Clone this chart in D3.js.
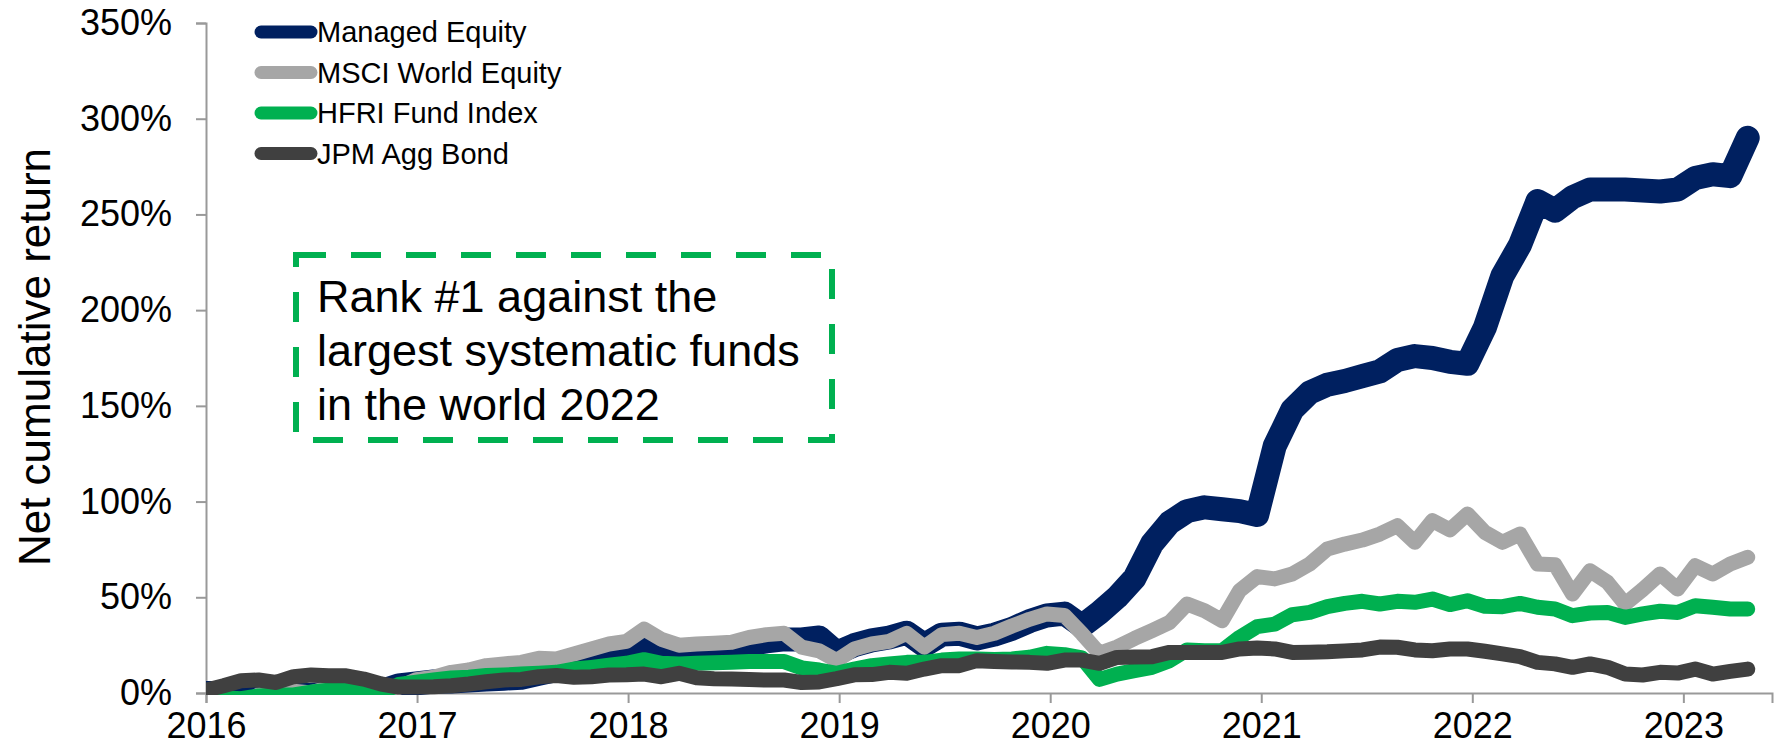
<!DOCTYPE html>
<html>
<head>
<meta charset="utf-8">
<script src="https://cdn.jsdelivr.net/npm/d3@7"></script>
<style>
    body { margin: 0; background: #fff; }
    text { font-family: "Liberation Sans", Arial, sans-serif; fill: #000; }
</style>
</head>
<body>
<div id="chart"></div>
<script>
// monthly net cumulative return (%), month-ends starting at 2016.0
let managed = [0, 0, -1, 0, 0, -1, -1, 0, 0, 0, 1, 4,
    5, 6, 6, 6.5, 7, 7.5, 8, 10, 12, 15, 18, 21,
    22, 27, 23, 21, 21.5, 22, 22.5, 25.5, 27, 28, 28, 29,
    21, 25, 27.5, 29, 31.5, 25, 30.5, 31, 28.5, 30.5, 33.5, 37.5,
    40.5, 41.5, 35, 42, 50, 60, 78, 89, 95, 97, 96, 95,
    93, 129, 148, 157, 161, 163, 165.5, 168, 174, 176, 175, 173,
    172, 191, 218, 234, 257, 252, 259, 263, 263, 263, 262.5, 262,
    263, 269, 271, 270, 290];
let msci = [-3, -6, -6.5, -1, 0.5, 1, 0, 3, 3, 2, -2, 3,
    7, 8.2, 10.8, 12, 14.3, 15.2, 16, 18.1, 17.8, 20.4, 23, 25.6,
    27, 33.4, 28, 25, 25.6, 26, 26.5, 29, 30.5, 31.2, 24, 22,
    17, 23, 25.6, 27, 31.2, 24, 30.5, 31.2, 29, 31.2, 35, 38.5,
    41.3, 40.5, 31, 20.7, 24, 28.5, 32.6, 36.9, 46.5, 43, 37.8, 53.5,
    60.8, 59.6, 62.2, 67.4, 75.2, 77.8, 79.9, 83, 87.4, 78.7, 90, 85.2,
    93.5, 83.9, 78.7, 83.1, 67.4, 67, 51.7, 63.9, 57.8, 46.5, 54, 62.2,
    54.3, 66.5, 62.2, 67.4, 70.9];
let hfri = [-1, -2.5, -3, -1.5, -1, -1, 0.5, 1.5, 1.5, 1.5, 0, 4.5,
    5.6, 6.8, 7.8, 8.2, 9.1, 9.4, 9.9, 10.3, 10.8, 12.5, 13.4, 14.5,
    15.5, 17.4, 15.5, 15.2, 15.5, 15.8, 16, 16.4, 16.5, 16.4, 13.1, 12,
    10.3, 12.5, 14.3, 15.2, 16, 16, 17.2, 17.8, 17.8, 17.5, 17.8, 18.7,
    20.7, 20, 18.3, 7.1, 9.9, 11.7, 13.4, 16.9, 22.5, 22.1, 22.1, 29.1,
    34.7, 36, 40.9, 42.1, 45.1, 46.8, 47.9, 46.5, 47.9, 47.4, 49.1, 46.2,
    48.2, 45.3, 45.1, 46.8, 44.8, 43.9, 40.4, 41.8, 42.1, 39.5, 41.3, 42.7,
    42.1, 45.6, 44.8, 43.9, 43.9];
let jpm = [1.5, 3.8, 6.4, 6.8, 5.5, 8.5, 9.4, 9, 9, 7.3, 4.7, 3.1,
    3.1, 3.3, 3.8, 4.7, 5.9, 6.8, 7.1, 8.5, 9.1, 8.2, 8.5, 9.4,
    9.5, 9.9, 8.5, 10.3, 8, 7.5, 7.3, 7, 6.8, 6.8, 5.5, 5.8,
    7.5, 9.5, 9.6, 10.8, 10.3, 12.5, 14.3, 14.3, 16.9, 16.5, 16.2, 16,
    15.5, 17.2, 17.2, 15.5, 18.6, 18.8, 19, 21.2, 21.2, 21.2, 21.2, 23,
    23.5, 23, 21.2, 21.3, 21.5, 22, 22.5, 24, 23.9, 22.5, 22.1, 23,
    23, 21.8, 20.4, 19, 16, 15.2, 13.4, 15.2, 13.4, 9.9, 9.4, 10.8,
    10.4, 12.5, 9.9, 11.3, 12.5];

let seriesNames = ["Managed Equity", "MSCI World Equity", "HFRI Fund Index", "JPM Agg Bond"];
let seriesColors = ["#002060", "#a6a6a6", "#00b050", "#404040"];
let seriesWidths = [24, 15, 15, 15];
let yearTicks = [2016, 2017, 2018, 2019, 2020, 2021, 2022, 2023];
let yTicks = [0, 50, 100, 150, 200, 250, 300, 350];
let noteLines = ["Rank #1 against the", "largest systematic funds", "in the world 2022"];

let startYear = 2016, lastPointYear = 2023.305;
let width = 1782, height = 755;

let svg = d3.select("#chart")
    .append("svg")
    .attr("width", width)
    .attr("height", height)

let x = d3.scaleLinear().domain([2016, 2023.42]).range([206, 1772]);
let y = d3.scaleLinear().domain([0, 350]).range([693, 23]);
// point index -> year on the date axis
let t = d3.scaleLinear().domain([0, managed.length - 1]).range([startYear, lastPointYear]);

// plot area clip (Excel cuts the lines at the 0% floor)
svg.append("clipPath")
    .attr("id", "plot-clip")
    .append("rect")
    .attr("x", x.range()[0])
    .attr("y", 0)
    .attr("width", x.range()[1] - x.range()[0])
    .attr("height", y(0) + 2)

// axes
let yAxis = svg.append("g")
    .attr("transform", "translate(" + x(2016) + ",0)")
    .call(d3.axisLeft(y).tickValues(yTicks).tickSize(10).tickPadding(24).tickFormat(d => d + "%"));

let xAxis = svg.append("g")
    .attr("transform", "translate(0," + y(0) + ")")
    .call(d3.axisBottom(x).tickValues(yearTicks).tickSize(10).tickPadding(9).tickFormat(d3.format("d")));

[yAxis, xAxis].forEach(function (g) {
    g.select(".domain").attr("stroke", "#999").attr("stroke-width", 2);
    g.selectAll(".tick line").attr("stroke", "#999").attr("stroke-width", 2);
    g.selectAll(".tick text")
        .attr("fill", "#000")
        .style("font-size", "36px")
        .style("font-family", "'Liberation Sans', Arial, sans-serif");
});
xAxis.selectAll(".tick text").attr("dy", "0.71em");

svg.append("text")
    .attr("transform", "translate(50,357) rotate(-90)")
    .attr("text-anchor", "middle")
    .style("font-size", "44px")
    .text("Net cumulative return")

// lines, first series underneath
let line = d3.line()
    .x((d, i) => x(t(i)))
    .y(d => y(d));

let allSeries = [managed, msci, hfri, jpm];
svg.append("g")
    .attr("clip-path", "url(#plot-clip)")
    .selectAll("path")
    .data(allSeries)
    .join("path")
    .attr("d", line)
    .attr("fill", "none")
    .attr("stroke", (d, i) => seriesColors[i])
    .attr("stroke-width", (d, i) => seriesWidths[i])
    .attr("stroke-linejoin", "round")
    .attr("stroke-linecap", "round")

// legend
let legend = svg.append("g").attr("transform", "translate(255,32)");
seriesNames.forEach(function (name, i) {
    let row = legend.append("g").attr("transform", "translate(0," + i * 40.5 + ")");
    row.append("line")
        .attr("x1", 6).attr("x2", 56)
        .attr("stroke", seriesColors[i])
        .attr("stroke-width", 13)
        .attr("stroke-linecap", "round")
    row.append("text")
        .attr("x", 62)
        .attr("dy", "0.36em")
        .style("font-size", "29px")
        .text(name)
});

// annotation box
svg.append("rect")
    .attr("x", 296)
    .attr("y", 255)
    .attr("width", 536)
    .attr("height", 185)
    .attr("fill", "none")
    .attr("stroke", "#00b050")
    .attr("stroke-width", 6)
    .attr("stroke-dasharray", "30 25")

svg.append("g")
    .selectAll("text")
    .data(noteLines)
    .join("text")
    .attr("x", 317)
    .attr("y", (d, i) => 312 + i * 54)
    .style("font-size", "45px")
    .text(d => d)
</script>
</body>
</html>
